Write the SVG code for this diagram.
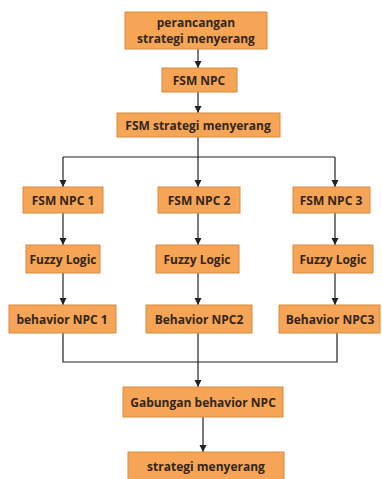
<svg xmlns="http://www.w3.org/2000/svg" width="382" height="479" viewBox="0 0 382 479">
<defs>
<marker id="ah" markerWidth="8" markerHeight="8" refX="7" refY="4" orient="auto" markerUnits="userSpaceOnUse">
<path d="M0,0.5 L7,4 L0,7.5 z" fill="#222"/>
</marker>
<style>
.box{fill:#F6A456;stroke:#D98B40;stroke-width:1}
.t{font-family:"Open Sans","Liberation Sans",sans-serif;font-weight:bold;font-size:12px;fill:#33261b;text-anchor:middle}
.ln{stroke:#222;stroke-width:1.2;fill:none}
.ar{stroke:#222;stroke-width:1.2;fill:none;marker-end:url(#ah)}
</style>
</defs>
<rect width="382" height="479" fill="#fff"/>
<g id="connectors">
<path class="ar" d="M198,49 V68"/>
<path class="ar" d="M198,92 V113"/>
<path class="ln" d="M198,137 V157"/>
<path class="ln" d="M63,157 H335"/>
<path class="ar" d="M63,157 V187"/>
<path class="ar" d="M198,157 V187"/>
<path class="ar" d="M335,157 V187"/>
<path class="ar" d="M63,213 V245"/>
<path class="ar" d="M198,213 V245"/>
<path class="ar" d="M335,213 V245"/>
<path class="ar" d="M63,273 V305"/>
<path class="ar" d="M198,273 V305"/>
<path class="ar" d="M335,273 V305"/>
<path class="ln" d="M63,333 V362 H337 V333"/>
<path class="ar" d="M198,333 V387"/>
<path class="ar" d="M203,417 V452"/>
</g>
<g id="n_perancangan"><rect class="box" x="125" y="12" width="142" height="37"/><text class="t" x="196" y="27">perancangan</text><text class="t" x="196" y="43">strategi menyerang</text></g>
<g id="n_fsmnpc"><rect class="box" x="162" y="68" width="75" height="24"/><text class="t" x="199" y="84.5">FSM NPC</text></g>
<g id="n_fsmstrategi"><rect class="box" x="117" y="113" width="163" height="24"/><text class="t" x="198" y="129.5">FSM strategi menyerang</text></g>
<g id="n_fsm1"><rect class="box" x="23" y="187" width="80" height="26"/><text class="t" x="63" y="204.5">FSM NPC 1</text></g>
<g id="n_fsm2"><rect class="box" x="158" y="187" width="82" height="26"/><text class="t" x="199" y="204.5">FSM NPC 2</text></g>
<g id="n_fsm3"><rect class="box" x="293" y="187" width="77" height="26"/><text class="t" x="331" y="204.5">FSM NPC 3</text></g>
<g id="n_fuzzy1"><rect class="box" x="26" y="245" width="74" height="28"/><text class="t" x="63" y="263.5">Fuzzy Logic</text></g>
<g id="n_fuzzy2"><rect class="box" x="156" y="245" width="83" height="28"/><text class="t" x="197" y="263.5">Fuzzy Logic</text></g>
<g id="n_fuzzy3"><rect class="box" x="293" y="245" width="80" height="28"/><text class="t" x="333" y="263.5">Fuzzy Logic</text></g>
<g id="n_beh1"><rect class="box" x="9" y="305" width="107" height="28"/><text class="t" x="62" y="323.5">behavior NPC 1</text></g>
<g id="n_beh2"><rect class="box" x="146" y="305" width="106" height="28"/><text class="t" x="199" y="323.5">Behavior NPC2</text></g>
<g id="n_beh3"><rect class="box" x="279" y="305" width="101" height="28"/><text class="t" x="330" y="323.5">Behavior NPC3</text></g>
<g id="n_gabungan"><rect class="box" x="123" y="387" width="160" height="30"/><text class="t" x="203" y="406.5">Gabungan behavior NPC</text></g>
<g id="n_strategi"><rect class="box" x="128" y="452" width="156" height="30"/><text class="t" x="206" y="470.5">strategi menyerang</text></g>
</svg>
